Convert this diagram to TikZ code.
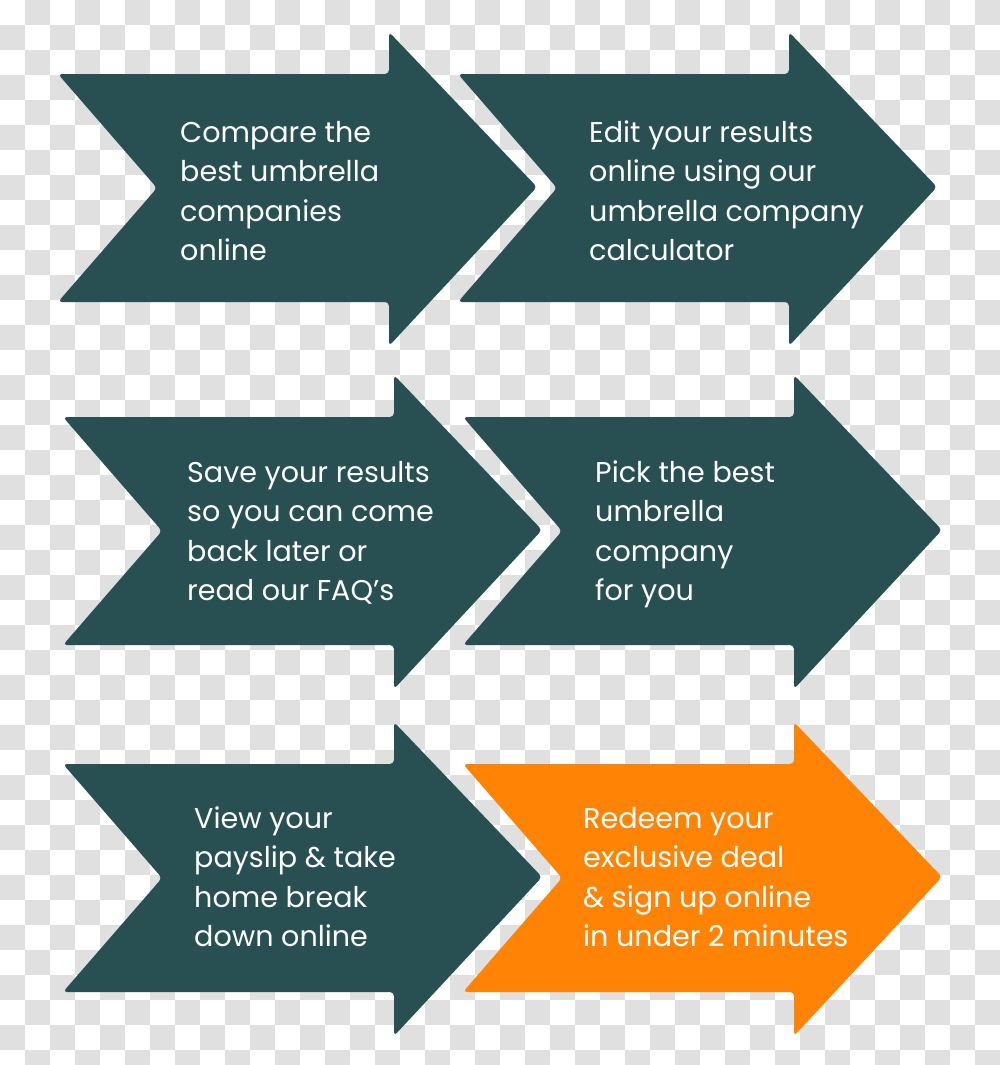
\documentclass[tikz,border=0pt]{standalone}
\usepackage{fontspec}
\setmainfont{Poppins}
\definecolor{stepteal}{HTML}{284F51}
\definecolor{steporange}{HTML}{FF8405}
\definecolor{checkgrey}{HTML}{E0E0E0}
\tikzset{
  arrowshape/.style={fill=#1, rounded corners=4pt},
  steptext/.style={text=white, anchor=north west, inner sep=0pt, align=left,
    font=\fontsize{28.6}{39.4}\selectfont},
}
\newcommand\steparrow[3]{%
  \fill[arrowshape=#3, shift={(#1,#2)}]
    (58,74) -- (389,74) -- (389,32) -- (537,187) -- (389,346) -- (389,302)
    -- (58,302) -- (157,188) -- cycle;}
\begin{document}
\begin{tikzpicture}[x=1pt,y=-1pt]
\useasboundingbox (0,0) rectangle (1000,1065);
\fill[white] (0,0) rectangle (1000,1065);
\begin{scope}
  \clip (0,0) rectangle (1000,1065);
  \foreach \j in {0,...,42}{
    \pgfmathtruncatemacro\s{mod(\j,2)}
    \foreach \k in {0,...,19}{
      \fill[checkgrey] ({50*\k+25*(1-\s)},{25*\j}) rectangle ++(25,25);
    }
  }
\end{scope}
\steparrow{0}{0}{stepteal}
\steparrow{400}{0}{stepteal}
\steparrow{5}{343}{stepteal}
\steparrow{405}{343}{stepteal}
\steparrow{5}{690}{stepteal}
\steparrow{405}{690}{steporange}
\node[steptext] (t1) at (180,112) {\rule{0pt}{30pt}Compare the\\best umbrella\\companies\\online};
\node[steptext] (t2) at (589,112) {\rule{0pt}{30pt}Edit your results\\online using our\\umbrella company\\calculator};
\node[steptext] (t3) at (187,452) {\rule{0pt}{30pt}Save your results\\so you can come\\back later or\\read our FAQ’s};
\node[steptext] (t4) at (595,452) {\rule{0pt}{30pt}Pick the best\\umbrella\\company\\for you};
\node[steptext] (t5) at (194,798) {\rule{0pt}{30pt}View your\\payslip \& take\\home break\\down online};
\node[steptext] (t6) at (583,798) {\rule{0pt}{30pt}Redeem your\\exclusive deal\\\& sign up online\\in under 2 minutes};
\end{tikzpicture}
\end{document}
